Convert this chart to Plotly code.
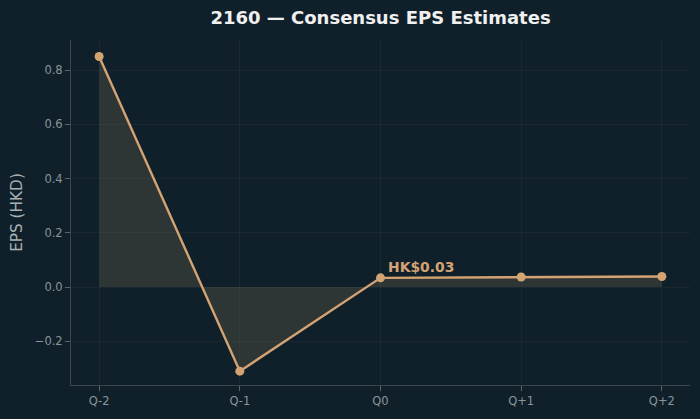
import plotly.graph_objects as go

quarters = ["Q-2", "Q-1", "Q0", "Q+1", "Q+2"]
eps = [0.85, -0.31, 0.034, 0.037, 0.039]
y_ticks = [-0.2, 0.0, 0.2, 0.4, 0.6, 0.8]
y_tick_text = ["\u22120.2", "0.0", "0.2", "0.4", "0.6", "0.8"]
label_text = "HK$0.03"
label_index = 2

BG = "#10202a"
LINE = "#d4a373"
FONT = "DejaVu Sans"

xs = list(range(len(quarters)))

fig = go.Figure()
fig.add_trace(go.Scatter(
    x=xs, y=eps, mode="lines+markers",
    line=dict(color=LINE, width=2.4),
    marker=dict(color=LINE, size=9),
    fill="tozeroy", fillcolor="rgba(165,140,100,0.2)",
    hoverinfo="skip", showlegend=False,
))

fig.add_annotation(
    x=xs[label_index], y=eps[label_index], text="<b>%s</b>" % label_text,
    showarrow=False, xanchor="left", yanchor="middle", xshift=5, yshift=11,
    font=dict(family=FONT, size=13.9, color=LINE),
)

fig.update_layout(
    width=700, height=419,
    paper_bgcolor=BG, plot_bgcolor=BG,
    margin=dict(l=71, r=10, t=40, b=34),
    title=dict(text="<b>2160 \u2014 Consensus EPS Estimates</b>", xref="paper", x=0.5, xanchor="center",
               y=0.957, yanchor="middle",
               font=dict(family=FONT, size=18, color="#f0f0f0")),
    font=dict(family=FONT),
)
fig.update_xaxes(
    range=[-0.2, 4.2], tickmode="array", tickvals=xs, ticktext=quarters,
    showline=True, linecolor="#3c474d", linewidth=1,
    ticks="outside", ticklen=5, tickcolor="#5a656b",
    showgrid=True, gridcolor="rgba(255,255,255,0.035)", gridwidth=1,
    zeroline=False,
    tickfont=dict(family=FONT, size=11.5, color="#8a949a"),
)
fig.update_yaxes(
    range=[-0.361, 0.911], tickmode="array", tickvals=y_ticks, ticktext=y_tick_text,
    showline=True, linecolor="#3c474d", linewidth=1,
    ticks="outside", ticklen=5, tickcolor="#5a656b",
    showgrid=True, gridcolor="rgba(255,255,255,0.035)", gridwidth=1,
    zeroline=False,
    tickfont=dict(family=FONT, size=11.5, color="#8a949a"),
    title=dict(text="EPS (HKD)", font=dict(family=FONT, size=15.3, color="#a8b0b4"), standoff=8),
)

fig.write_html("out.html")
